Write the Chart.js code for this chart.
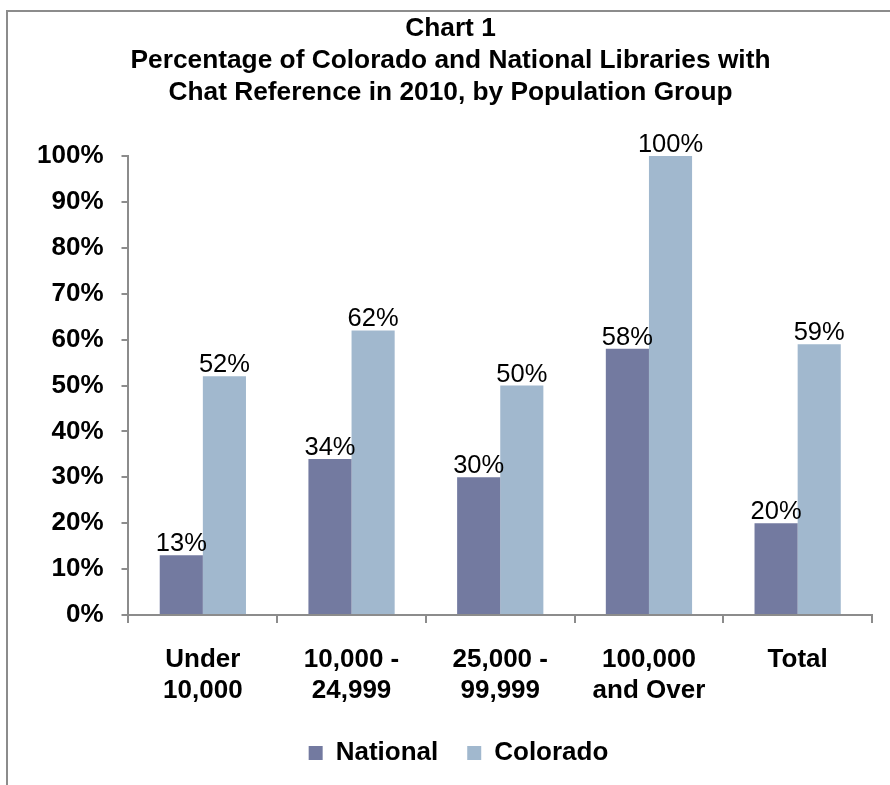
<!DOCTYPE html>
<html>
<head>
<meta charset="utf-8">
<script src="https://cdn.jsdelivr.net/npm/chart.js@4/dist/chart.umd.min.js"></script>
<style>
  html, body { margin: 0; padding: 0; background: #fff; }
  #frame {
    position: absolute; left: 6px; top: 10px; width: 884px; height: 775px;
    border-left: 2px solid #8c8c8c; border-top: 2px solid #8c8c8c; box-sizing: border-box;
  }
  #wrap { position: absolute; left: 0; top: 0; width: 890px; height: 785px; }
</style>
</head>
<body>
<div id="frame"></div>
<div id="wrap"><canvas id="chart"></canvas></div>
<script>
  // ---- data ----
  const categories = [["Under", "10,000"], ["10,000 -", "24,999"], ["25,000 -", "99,999"], ["100,000", "and Over"], ["Total"]];
  const national = [13, 34, 30, 58, 20];
  const colorado = [52, 62, 50, 100, 59];
  const titleLines = ["Chart 1", "Percentage of Colorado and National Libraries with", "Chat Reference in 2010, by Population Group"];

  const FONT = "'Liberation Sans', Arial, Helvetica, sans-serif";
  const AXIS = "#8c8c8c";

  Chart.defaults.color = "#000";
  Chart.defaults.font.family = FONT;

  // value labels above bars
  const barLabels = {
    id: "barLabels",
    afterDatasetsDraw(chart) {
      const ctx = chart.ctx;
      ctx.save();
      ctx.font = "25.5px " + FONT;
      ctx.fillStyle = "#000";
      ctx.textAlign = "center";
      ctx.textBaseline = "alphabetic";
      chart.data.datasets.forEach((ds, i) => {
        chart.getDatasetMeta(i).data.forEach((bar, j) => {
          ctx.fillText(ds.data[j] + "%", bar.x, bar.y - 4);
        });
      });
      ctx.restore();
    }
  };

  // nudge title / legend a bit right, like the original sheet
  const nudge = {
    id: "nudge",
    afterLayout(chart) {
      if (chart.titleBlock) { chart.titleBlock.left += 5; chart.titleBlock.right += 5; }
      if (chart.legend) { chart.legend.left += 13; chart.legend.right += 13; }
    }
  };

  new Chart(document.getElementById("chart"), {
    type: "bar",
    data: {
      labels: categories,
      datasets: [
        { label: "National", data: national, backgroundColor: "#737aa0" },
        { label: "Colorado", data: colorado, backgroundColor: "#a1b8ce" }
      ]
    },
    options: {
      responsive: true,
      maintainAspectRatio: false,
      animation: false,
      datasets: { bar: { categoryPercentage: 0.58, barPercentage: 1 } },
      layout: { padding: { left: 19, right: 18, top: 0, bottom: 9 } },
      plugins: {
        title: {
          display: true,
          text: titleLines,
          font: { size: 26.3, weight: "bold", lineHeight: 32 / 26.3 },
          padding: { top: 13, bottom: 47 },
          color: "#000"
        },
        legend: {
          position: "bottom",
          labels: {
            boxWidth: 14, boxHeight: 14, padding: 29,
            font: { size: 26, weight: "bold" }, color: "#000"
          }
        },
        tooltip: { enabled: false }
      },
      scales: {
        x: {
          afterFit(scale) { scale.height = 96; },
          grid: { display: true, drawOnChartArea: false, offset: true, tickLength: 8, color: AXIS, lineWidth: 2 },
          border: { color: AXIS, width: 2 },
          ticks: { font: { size: 26, weight: "bold", lineHeight: 31 / 26 }, padding: 21, maxRotation: 0 }
        },
        y: {
          min: 0, max: 100,
          grid: { display: true, drawOnChartArea: false, tickLength: 7, color: AXIS, lineWidth: 2 },
          border: { color: AXIS, width: 2 },
          ticks: { stepSize: 10, padding: 18, font: { size: 26, weight: "bold" }, callback: (v) => v + "%" }
        }
      }
    },
    plugins: [barLabels, nudge]
  });
</script>
</body>
</html>
